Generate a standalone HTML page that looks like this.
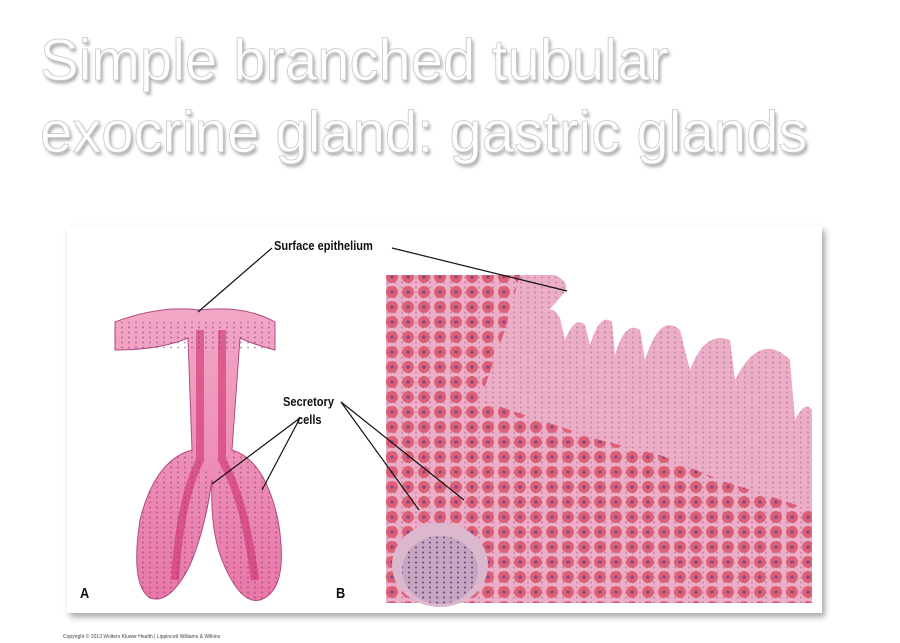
<!DOCTYPE html>
<html><head><meta charset="utf-8"><style>
html,body{margin:0;padding:0;background:#fff;width:900px;height:643px;overflow:hidden;position:relative;font-family:"Liberation Sans",sans-serif}
.t{position:absolute;left:40px;font-size:58px;color:#fff;-webkit-text-stroke:0.8px #c8c8c8;text-shadow:2px 3px 3px #aaa;white-space:nowrap}
.panel{position:absolute;left:67px;top:226px;width:755px;height:387px;background:#fff;box-shadow:3px 4px 6px rgba(0,0,0,.35)}
.lab{position:absolute;font-weight:bold;font-size:13px;color:#111;transform:scaleX(.85);transform-origin:left;white-space:nowrap}
.cp{position:absolute;left:63px;top:634px;font-size:5px;color:#444}
</style></head><body>
<div class="t" style="top:27px">Simple branched tubular</div>
<div class="t" style="top:99px">exocrine gland: gastric glands</div>
<div class="panel"></div>
<svg style="position:absolute;left:0;top:0" width="900" height="643">
<defs>
<pattern id="cells" width="16" height="15" patternUnits="userSpaceOnUse">
<circle cx="8" cy="7" r="6" fill="#d8465c"/><circle cx="8" cy="7" r="1.8" fill="#6a2a70"/>
</pattern>
<pattern id="nuc" width="7" height="5" patternUnits="userSpaceOnUse">
<circle cx="3" cy="2.5" r="1" fill="#6b3d7a"/>
</pattern>
<linearGradient id="gl" x1="0" x2="0" y1="0" y2="1"><stop offset="0" stop-color="#f2a7c6"/><stop offset="1" stop-color="#e977a8"/></linearGradient>
</defs>
<path d="M386,275 L555,275 Q570,282 565,292 L540,320 Q550,300 560,318 L565,340 Q575,315 585,325 L590,345 Q600,312 612,322 L615,355 Q625,320 640,330 L645,360 Q660,312 680,330 L690,370 Q705,330 730,340 L735,380 Q760,330 790,360 L795,420 Q805,400 812,410 L812,603 L386,603 Z" fill="#ecaec6"/>
<path d="M386,275 L555,275 Q570,282 565,292 L540,320 Q550,300 560,318 L565,340 Q575,315 585,325 L590,345 Q600,312 612,322 L615,355 Q625,320 640,330 L645,360 Q660,312 680,330 L690,370 Q705,330 730,340 L735,380 Q760,330 790,360 L795,420 Q805,400 812,410 L812,603 L386,603 Z" fill="url(#nuc)" opacity=".35"/>
<path d="M386,275 L520,275 L505,330 L480,400 L540,420 L600,440 L660,455 L720,480 L812,510 L812,603 L386,603 Z" fill="url(#cells)" opacity=".75"/>
<ellipse cx="440" cy="565" rx="48" ry="42" fill="#dcb8cf"/>
<ellipse cx="440" cy="570" rx="38" ry="34" fill="url(#nuc)"/>
<ellipse cx="440" cy="570" rx="38" ry="34" fill="#6c5a8a" opacity=".2"/>
<path d="M115,322 Q160,305 200,310 Q245,305 275,322 L275,350 Q255,345 240,338 L232,450 Q265,460 278,520 Q290,590 260,600 Q240,605 222,560 Q210,530 212,480 Q205,530 190,565 Q170,605 150,598 Q130,585 140,520 Q155,460 192,450 L188,338 Q160,350 115,350 Z" fill="url(#gl)" stroke="#b04c82" stroke-width="1"/>
<path d="M200,330 L200,460 Q180,500 175,580 M222,330 L222,460 Q245,500 255,580" stroke="#d0306e" stroke-width="8" fill="none" opacity=".6"/>
<path d="M115,322 L275,322 L275,350 L115,350 Z" fill="url(#nuc)" opacity=".5"/>
<path d="M140,520 Q155,460 192,450 L212,480 L232,450 Q265,460 278,520 Q290,590 260,600 Q240,605 222,560 L212,480 Q205,530 190,565 Q170,605 150,598 Q130,585 140,520Z" fill="url(#nuc)" opacity=".5"/>
<g stroke="#111" stroke-width="1.2" fill="none">
<line x1="272" y1="248" x2="198" y2="312"/>
<line x1="392" y1="248" x2="567" y2="291"/>
<line x1="341" y1="402" x2="419" y2="510"/>
<line x1="341" y1="402" x2="464" y2="500"/>
<line x1="300" y1="418" x2="212" y2="484"/>
<line x1="300" y1="418" x2="262" y2="490"/>
</g>
</svg>
<div class="lab" style="left:274px;top:238px">Surface epithelium</div>
<div class="lab" style="left:283px;top:394px">Secretory</div>
<div class="lab" style="left:297px;top:412px">cells</div>
<div class="lab" style="left:80px;top:585px;font-size:15px">A</div>
<div class="lab" style="left:336px;top:585px;font-size:15px">B</div>
<div class="cp">Copyright © 2013 Wolters Kluwer Health | Lippincott Williams &amp; Wilkins</div>
</body></html>
